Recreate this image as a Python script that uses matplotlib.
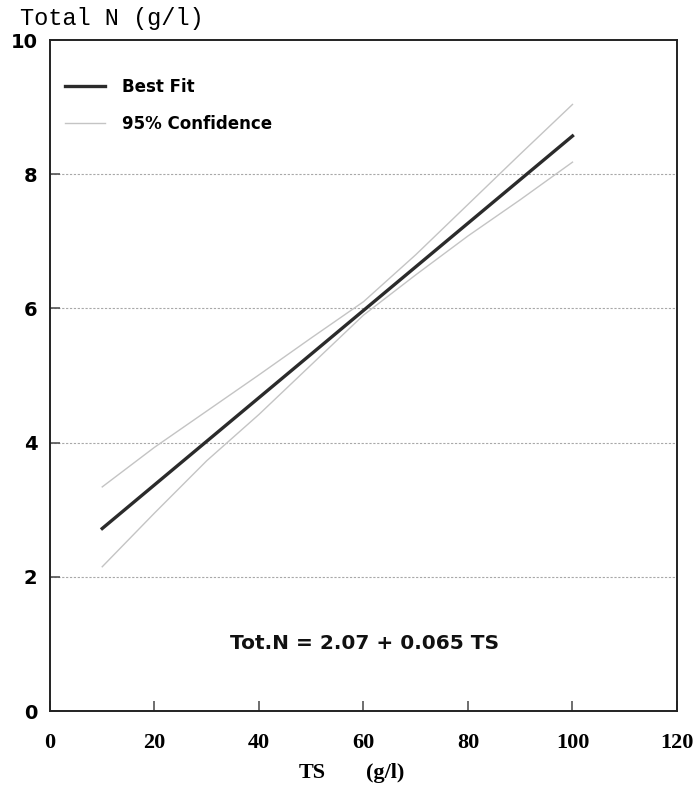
import numpy as np
import matplotlib
matplotlib.use("Agg")
import matplotlib.pyplot as plt

# ── data ─────────────────────────────────────────────────────────────────────
fit_x = [10, 100]
fit_y = [2.72, 8.57]          # Tot.N = 2.07 + 0.065 TS

conf_x = [10, 20, 30, 40, 50, 60, 70, 80, 90, 100]
conf_upper = [3.34, 3.93, 4.47, 5.01, 5.56, 6.10, 6.80, 7.55, 8.30, 9.04]
conf_lower = [2.15, 2.95, 3.73, 4.42, 5.16, 5.90, 6.50, 7.08, 7.62, 8.18]

x_ticks = [0, 20, 40, 60, 80, 100, 120]
y_ticks = [0, 2, 4, 6, 8, 10]
grid_y = [2, 4, 6, 8]

equation = "Tot.N = 2.07 + 0.065 TS"

# ── figure ───────────────────────────────────────────────────────────────────
fig = plt.figure(figsize=(6.96, 7.88), dpi=100)
ax = fig.add_axes([0.0718, 0.0977, 0.9009, 0.8515])

dark = '#2b2b2b'
light = '#c4c4c4'

for g in grid_y:
    ax.axhline(g, color='#a8a8a8', lw=0.8, ls=(0, (2, 1.5)), zorder=1)

ax.plot(conf_x, conf_upper, color=light, lw=1.0, zorder=2)
ax.plot(conf_x, conf_lower, color=light, lw=1.0, zorder=2,
        label='95% Confidence')
ax.plot(fit_x, fit_y, color=dark, lw=2.4, zorder=3, label='Best Fit')

ax.set_xlim(0, 120)
ax.set_ylim(0, 10)
ax.set_xticks(x_ticks)
ax.set_yticks(y_ticks)
ax.tick_params(axis='both', direction='in', length=7, width=1.2,
               color='#555555')
ax.tick_params(axis='x', pad=16, labelsize=16)
ax.tick_params(axis='y', pad=9, labelsize=14)
for t in ax.get_xticklabels():
    t.set_fontfamily('Liberation Serif')
    t.set_fontweight('bold')
for t in ax.get_yticklabels():
    t.set_fontweight('bold')
for s in ax.spines.values():
    s.set_linewidth(1.4)
    s.set_color('#222222')

# legend (best fit first)
h, l = ax.get_legend_handles_labels()
ax.legend(h[::-1], l[::-1], loc='upper left', bbox_to_anchor=(0.024, 0.943),
          frameon=False, handlelength=2.4, handletextpad=1.0,
          labelspacing=1.1, borderpad=0, borderaxespad=0,
          prop={'weight': 'bold', 'size': 12})

ax.text(60.3, 1.0, equation, ha='center', va='center',
        fontsize=14.5, fontweight='bold', color='#111111')

fig.text(0.029, 0.977, "Total N (g/l)", ha='left', va='center',
         fontsize=17, family='Liberation Mono')
fig.text(0.449, 0.019, "TS", ha='center', va='center', fontsize=16,
         family='Liberation Serif', fontweight='bold')
fig.text(0.553, 0.019, "(g/l)", ha='center', va='center', fontsize=16,
         family='Liberation Serif', fontweight='bold')

fig.savefig("out.png", dpi=100)
plt.close(fig)
